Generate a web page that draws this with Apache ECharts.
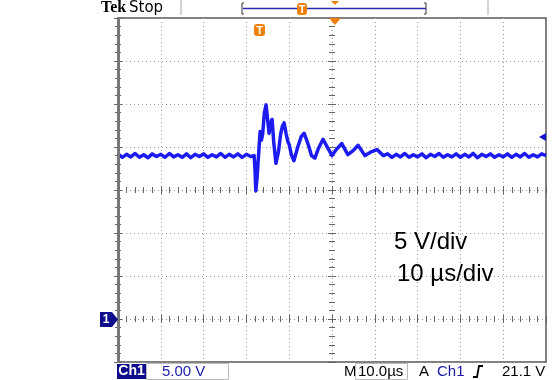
<!DOCTYPE html>
<html>
<head>
<meta charset="utf-8">
<script src="https://cdn.jsdelivr.net/npm/echarts@6/dist/echarts.min.js"></script>
<style>
html, body { margin: 0; padding: 0; background: #fff; }
#chart { width: 552px; height: 380px; }
</style>
</head>
<body>
<div id="chart"></div>
<script>
// time in µs (10 µs/div), amplitude in V (5 V/div, ground marker at 0 V)
var timeBefore = [0, 1, 2, 3, 4, 5, 6, 7, 8, 9, 10, 11, 12, 13, 14, 15, 16, 17, 18, 19, 20,
  21, 22, 23, 24, 25, 26, 27, 28, 29, 30, 31]
var voltsBefore = [19.2, 18.8, 19.15, 18.85, 19.25, 18.8, 19.1, 18.75, 19.2, 18.9, 19.15, 18.8,
  19.25, 18.85, 19.1, 18.8, 19.2, 18.75, 19.15, 18.9, 19.2, 18.8, 19.1, 18.85, 19.25, 18.8, 19.15,
  18.85, 19.2, 18.8, 19.15, 18.9]

var timeBurst = [31.8, 32.0, 32.2, 32.5, 32.9, 33.2, 33.5, 33.8, 34.2, 34.6, 35.0, 35.3, 35.7,
  36.0, 36.4, 36.9, 37.5, 38.0, 38.4, 38.8, 39.3, 39.7, 40.0, 40.5, 41.1, 42.0, 42.8, 43.5, 44.5,
  45.2, 46.0, 46.8, 47.9, 49.0, 50.0, 51.0, 52.3, 53.7, 55.0, 56.1, 57.7, 59.0, 60.5, 62.0]
var voltsBurst = [19.0, 17.5, 14.9, 16.5, 19.5, 21.8, 20.8, 21.5, 24.0, 24.9, 23.0, 21.6, 22.8,
  23.2, 20.5, 18.1, 19.5, 21.5, 22.4, 22.8, 21.5, 20.6, 20.3, 19.1, 18.4, 20.0, 21.2, 21.6, 20.2,
  19.0, 18.7, 19.8, 20.9, 19.9, 19.0, 19.7, 20.4, 19.1, 19.6, 20.2, 19.0, 19.4, 19.7, 19.0]

var timeAfter = [63, 64, 65, 66, 67, 68, 69, 70, 71, 72, 73, 74, 75, 76, 77, 78, 79, 80, 81, 82,
  83, 84, 85, 86, 87, 88, 89, 90, 91, 92, 93, 94, 95, 96, 97, 98, 99, 100]
var voltsAfter = [19.2, 18.8, 19.15, 18.85, 19.25, 18.8, 19.1, 18.85, 19.2, 18.75, 19.15, 18.9,
  19.25, 18.8, 19.1, 18.85, 19.2, 18.8, 19.15, 18.85, 19.25, 18.75, 19.15, 18.9, 19.2, 18.8, 19.1,
  18.85, 19.2, 18.8, 19.15, 18.85, 19.25, 18.8, 19.1, 18.85, 19.2, 19.0]

var trace = []
function addPoints(times, volts) {
  for (var i = 0; i < times.length; i++) {
    trace.push([times[i], volts[i]])
  }
}
addPoints(timeBefore, voltsBefore)
addPoints(timeBurst, voltsBurst)
addPoints(timeAfter, voltsAfter)

var gridDots = { color: '#999', width: 1, type: [1, 3] }
var tickStyle = { color: '#666', width: 1 }

function xAx(position, offset, inside, grid) {
  return {
    type: 'value', min: 0, max: 100, interval: 10,
    position: position, offset: offset,
    axisLine: { show: false },
    axisLabel: { show: false },
    axisTick: { show: true, inside: inside, length: 4, lineStyle: tickStyle },
    minorTick: { show: true, splitNumber: 5, length: 3, lineStyle: tickStyle },
    splitLine: { show: grid, lineStyle: gridDots }
  }
}
function yAx(position, offset, inside, grid) {
  return {
    type: 'value', min: -5, max: 35, interval: 5,
    position: position, offset: offset,
    axisLine: { show: false },
    axisLabel: { show: false },
    axisTick: { show: true, inside: inside, length: 4, lineStyle: tickStyle },
    minorTick: { show: true, splitNumber: 5, length: 3, lineStyle: tickStyle },
    splitLine: { show: grid, lineStyle: gridDots }
  }
}

var orange = '#f0800c'
var navy = '#0e0e8c'
var statusFont = '15px "Liberation Sans"'

var chart = echarts.init(document.getElementById('chart'))
chart.setOption({
  animation: false,
  backgroundColor: '#fff',
  grid: {
    left: 118, top: 18, width: 428, height: 344,
    show: true, borderColor: '#555', borderWidth: 1.5, backgroundColor: '#fff'
  },
  xAxis: [
    xAx('bottom', 0, true, true),
    xAx('top', 0, true, false),
    xAx('bottom', -172, true, false),
    xAx('bottom', -172, false, false)
  ],
  yAxis: [
    yAx('left', 0, true, true),
    yAx('right', 0, true, false),
    yAx('left', -214, true, false),
    yAx('left', -214, false, false)
  ],
  series: [{
    type: 'line',
    xAxisIndex: 0,
    yAxisIndex: 0,
    data: trace,
    showSymbol: false,
    lineStyle: { color: '#1c1cf0', width: 3.5, join: 'round' },
    z: 5
  }],
  graphic: [
    // header
    { type: 'text', left: 101, top: 0, style: { text: 'Tek', font: 'bold 16px "Liberation Serif"', fill: '#000' } },
    { type: 'text', left: 129, top: 1, style: { text: 'Stop', font: '15px "DejaVu Sans"', fill: '#000' } },
    { type: 'line', shape: { x1: 181, y1: 0, x2: 181, y2: 15 }, style: { stroke: '#aaa', lineWidth: 1 } },
    { type: 'line', shape: { x1: 488, y1: 0, x2: 488, y2: 15 }, style: { stroke: '#aaa', lineWidth: 1 } },
    { type: 'polyline', shape: { points: [[244, 3], [242, 3], [242, 14], [244, 14]] }, style: { stroke: '#333', lineWidth: 1, fill: null } },
    { type: 'polyline', shape: { points: [[424, 3], [426, 3], [426, 14], [424, 14]] }, style: { stroke: '#333', lineWidth: 1, fill: null } },
    { type: 'line', shape: { x1: 243, y1: 8.5, x2: 426, y2: 8.5 }, style: { stroke: '#2a2ab0', lineWidth: 1.5 } },
    { type: 'rect', shape: { x: 297, y: 3, width: 10, height: 12, r: 3 }, style: { fill: orange } },
    { type: 'text', x: 302, y: 9.5, style: { text: 'T', font: 'bold 11px "Liberation Sans"', fill: '#fff', align: 'center', verticalAlign: 'middle' } },
    { type: 'polygon', shape: { points: [[331, 1], [339, 1], [335, 5]] }, style: { fill: orange } },
    // graticule markers
    { type: 'polygon', shape: { points: [[329, 18], [341, 18], [335, 25]] }, style: { fill: orange }, z: 10 },
    { type: 'rect', shape: { x: 254, y: 24, width: 11, height: 12, r: 3 }, style: { fill: orange }, z: 10 },
    { type: 'text', x: 259.5, y: 30.5, style: { text: 'T', font: 'bold 11px "Liberation Sans"', fill: '#fff', align: 'center', verticalAlign: 'middle' }, z: 11 },
    { type: 'polygon', shape: { points: [[100, 312], [112, 312], [118, 319.5], [112, 327], [100, 327]] }, style: { fill: navy }, z: 10 },
    { type: 'text', x: 106, y: 320, style: { text: '1', font: 'bold 12px "Liberation Sans"', fill: '#fff', align: 'center', verticalAlign: 'middle' }, z: 11 },
    { type: 'polygon', shape: { points: [[539, 137], [546, 133], [546, 141]] }, style: { fill: '#1414c8' }, z: 10 },
    { type: 'rect', shape: { x: 117.5, y: 17, width: 2.5, height: 346 }, style: { fill: '#777' }, z: 9 },
    // scale annotation
    { type: 'text', left: 394, top: 230, style: { text: '5 V/div', font: '24px "Liberation Sans"', fill: '#000' }, z: 10 },
    { type: 'text', left: 397, top: 262, style: { text: '10 µs/div', font: '24px "Liberation Sans"', fill: '#000' }, z: 10 },
    // status bar
    { type: 'rect', shape: { x: 117, y: 364, width: 29, height: 15 }, style: { fill: navy } },
    { type: 'text', x: 131.5, y: 371.5, style: { text: 'Ch1', font: 'bold 14px "Liberation Sans"', fill: '#fff', align: 'center', verticalAlign: 'middle' } },
    { type: 'rect', shape: { x: 146.5, y: 363.5, width: 82, height: 16 }, style: { stroke: '#bbb', lineWidth: 1, fill: null } },
    { type: 'text', x: 162, y: 371.5, style: { text: '5.00 V', font: statusFont, fill: '#1a1aa8', verticalAlign: 'middle' } },
    { type: 'text', x: 344, y: 371.5, style: { text: 'M', font: statusFont, fill: '#000', verticalAlign: 'middle' } },
    { type: 'rect', shape: { x: 355.5, y: 363.5, width: 52, height: 16 }, style: { stroke: '#bbb', lineWidth: 1, fill: null } },
    { type: 'text', x: 358, y: 371.5, style: { text: '10.0µs', font: statusFont, fill: '#000', verticalAlign: 'middle' } },
    { type: 'text', x: 419, y: 371.5, style: { text: 'A', font: statusFont, fill: '#000', verticalAlign: 'middle' } },
    { type: 'text', x: 437, y: 371.5, style: { text: 'Ch1', font: statusFont, fill: '#1a1aa8', verticalAlign: 'middle' } },
    { type: 'polyline', shape: { points: [[473, 377], [477, 377], [479, 366], [483, 366]] }, style: { stroke: '#000', lineWidth: 1.8, fill: null } },
    { type: 'text', x: 502, y: 371.5, style: { text: '21.1 V', font: statusFont, fill: '#000', verticalAlign: 'middle' } }
  ]
})
</script>
</body>
</html>
